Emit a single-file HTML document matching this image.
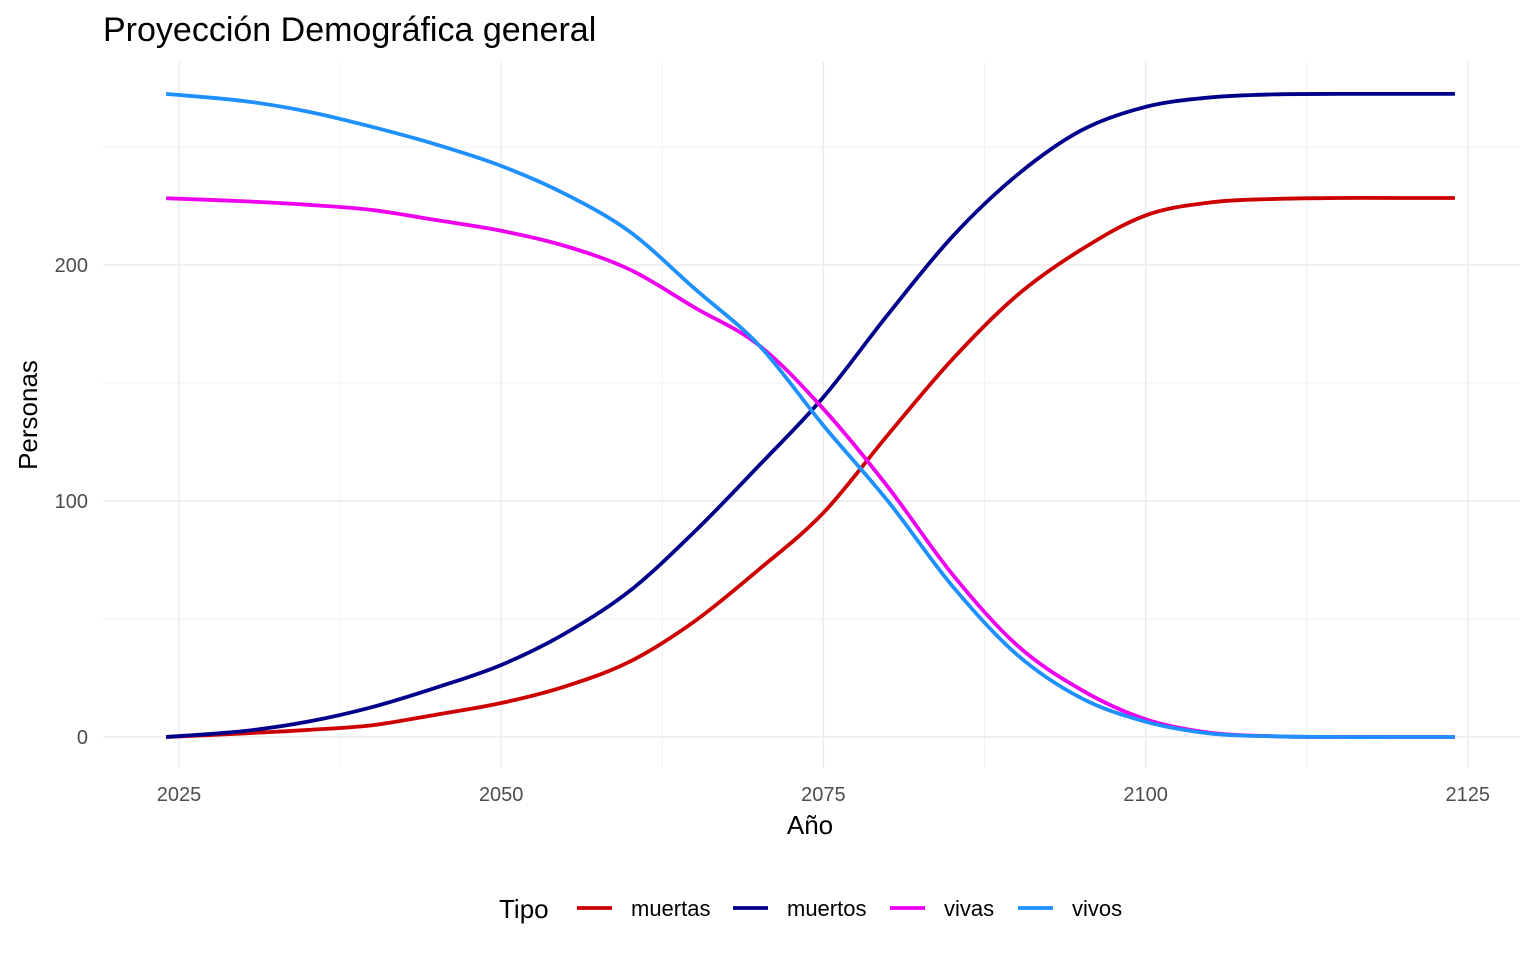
<!DOCTYPE html>
<html><head><meta charset="utf-8">
<style>
body{margin:0;background:#fff;font-family:"Liberation Sans",sans-serif;}
svg text{font-family:"Liberation Sans",sans-serif;}
</style></head>
<body>
<svg id="chart" width="1536" height="960" xmlns="http://www.w3.org/2000/svg">
<rect width="1536" height="960" fill="#fff"/>
<text x="103" y="41" font-size="34" fill="#000">Proyección Demográfica general</text>
<g id="grid"></g>
<g id="lines"></g>
<g id="axes"></g>
<text x="810" y="834" font-size="26" text-anchor="middle" fill="#000">Año</text>
<text transform="translate(37,415) rotate(-90)" font-size="26" text-anchor="middle" fill="#000">Personas</text>
<g id="legend"></g>
</svg>
<script>
const years = [2024,2030,2035,2040,2045,2050,2055,2060,2065,2070,2075,2080,2085,2090,2095,2100,2105,2110,2115,2120,2124];
const muertas = [0,1.5,3,5,9.5,14.4,21.5,32,49,71,95,128,160,187,206.5,221,226.5,228,228.4,228.4,228.4];
const muertos = [0,2.5,6.5,12.7,21,30.5,44,62,87,115,144,179,212,238,257,267,271,272.3,272.5,272.5,272.5];
const vivas = [228.3,227,225.5,223.3,219,214.5,208,198,182,166,139,106,69,39,20,7.5,1.8,0.3,0,0,0];
const vivos = [272.5,269.5,265,258.5,251,242,230,214,190,166,132,100,64,35,16.5,6.5,1.5,0.3,0,0,0];
const seriesNames = ["muertas","muertos","vivas","vivos"];
const seriesColors = ["#CD0000","#00008B","#EE00EE","#1E90FF"];
const xTicks = [2025,2050,2075,2100,2125];
const yTicks = [0,100,200];

const sx = v => 179 + (v-2025)*12.888;
const sy = v => 737 - v*2.36;
const NS="http://www.w3.org/2000/svg";
function mk(tag, attrs, parent){const e=document.createElementNS(NS,tag);for(const k in attrs)e.setAttribute(k,attrs[k]);parent.appendChild(e);return e;}
const grid=document.getElementById('grid'), axes=document.getElementById('axes'), lines=document.getElementById('lines');
const X0=103,X1=1520,Y0=62,Y1=768;
for(let i=0;i<xTicks.length-1;i++){const v=(xTicks[i]+xTicks[i+1])/2;
 const l=mk('line',{x1:sx(v),x2:sx(v),y1:Y0,y2:Y1,stroke:'#f2f2f2','stroke-width':1},grid);
 
 }
for(const v of [50,150,250]){
 const l=mk('line',{x1:X0,x2:X1,y1:sy(v),y2:sy(v),stroke:'#f2f2f2','stroke-width':1},grid);
 
 }
for(const v of xTicks){
 const l=mk('line',{x1:sx(v),x2:sx(v),y1:Y0,y2:Y1,stroke:'#ebebeb','stroke-width':1.4},grid);
 
 
 const t=mk('text',{x:sx(v),y:801,'font-size':20,'text-anchor':'middle',fill:'#4d4d4d'},axes);t.textContent=v;
 
 }
for(const v of yTicks){
 const l=mk('line',{x1:X0,x2:X1,y1:sy(v),y2:sy(v),stroke:'#ebebeb','stroke-width':1.4},grid);
 
 
 const t=mk('text',{x:88,y:sy(v)+7,'font-size':20,'text-anchor':'end',fill:'#4d4d4d'},axes);t.textContent=v;
 
 }
function smooth(pts){let d=`M${pts[0][0]},${pts[0][1]}`;
 for(let i=0;i<pts.length-1;i++){const p0=pts[Math.max(i-1,0)],p1=pts[i],p2=pts[i+1],p3=pts[Math.min(i+2,pts.length-1)];
  const c1=[p1[0]+(p2[0]-p0[0])/6,p1[1]+(p2[1]-p0[1])/6],c2=[p2[0]-(p3[0]-p1[0])/6,p2[1]-(p3[1]-p1[1])/6];
  d+=`C${c1[0]},${c1[1]} ${c2[0]},${c2[1]} ${p2[0]},${p2[1]}`;}
 return d;}
const data=[muertas,muertos,vivas,vivos];
data.forEach((arr,i)=>{
 const p=mk('path',{d:smooth(years.map((y,j)=>[sx(y),sy(arr[j])])),fill:'none',stroke:seriesColors[i],'stroke-width':3.8,'stroke-linejoin':'round'},lines);
 
 });
const lg=document.getElementById('legend');
const lt=mk('text',{x:499,y:918,'font-size':26,fill:'#000'},lg);lt.textContent='Tipo';


const lx=[577,733,890,1018];
seriesNames.forEach((n,i)=>{
 const l=mk('line',{x1:lx[i],x2:lx[i]+35,y1:908,y2:908,stroke:seriesColors[i],'stroke-width':3.8},lg);
 
 
 const t=mk('text',{x:lx[i]+54,y:916,'font-size':22,fill:'#000'},lg);t.textContent=n;
 
 });
</script>
</body></html>
